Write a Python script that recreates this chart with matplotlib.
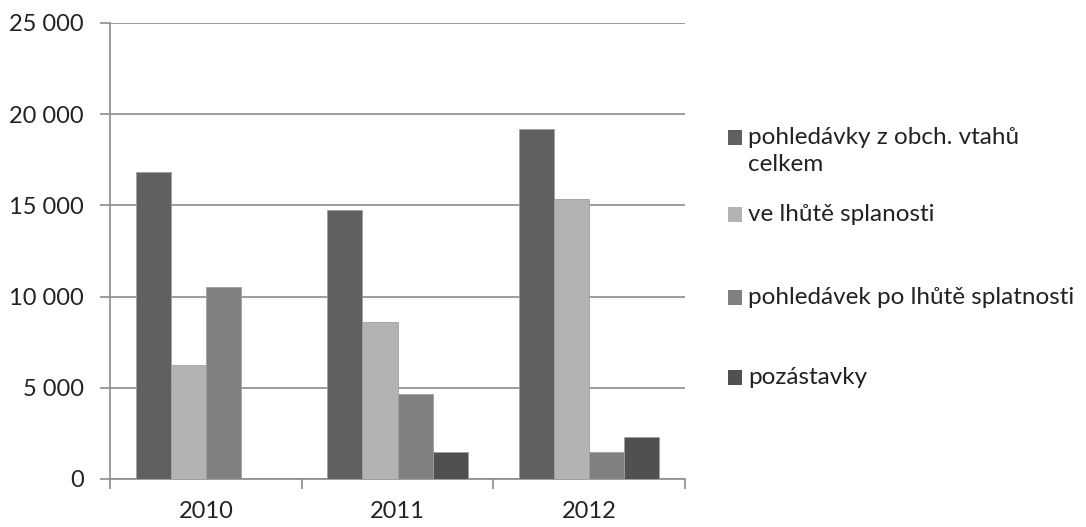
import matplotlib
matplotlib.use('Agg')
import matplotlib.pyplot as plt
from matplotlib.patches import Rectangle
from matplotlib.ticker import FuncFormatter, MultipleLocator
import numpy as np

years = ['2010', '2011', '2012']
series_names = ['pohledávky z obch. vtahů\ncelkem',
                've lhůtě splanosti',
                'pohledávek po lhůtě splatnosti',
                'pozástavky']
celkem = [16810, 14750, 19170]
ve_lhute = [6250, 8620, 15330]
po_lhute = [10540, 4640, 1500]
pozastavky = [0, 1480, 2320]
colors = ['#606060', '#b3b3b3', '#808080', '#505050']

plt.rcParams['font.family'] = ['Lato', 'DejaVu Sans']

fig = plt.figure(figsize=(10.86, 5.27), dpi=100)
ax = fig.add_axes([0.1013, 0.0911, 0.5295, 0.8653])

x = np.arange(len(years))
bw = 0.183
values = [celkem, ve_lhute, po_lhute, pozastavky]
for i, (vals, col) in enumerate(zip(values, colors)):
    ax.bar(x + (i - 1.5) * bw, vals, bw, color=col,
           edgecolor='#a0a0a0', linewidth=0.6, zorder=3)

ax.set_xlim(-0.5, 2.5)
ax.set_ylim(0, 25000)
ax.yaxis.set_major_locator(MultipleLocator(5000))
ax.yaxis.set_major_formatter(FuncFormatter(lambda v, p: f'{int(v):,}'.replace(',', ' ')))
ax.grid(axis='y', color='#8c8c8c', linewidth=1.2, zorder=0)

ax.set_xticks(x)
ax.set_xticklabels(years)
ax.set_xticks([-0.5, 0.5, 1.5, 2.5], minor=True)
ax.tick_params(axis='x', which='major', length=0, pad=16)
ax.tick_params(axis='x', which='minor', length=7, color='#8c8c8c', width=1.2)
ax.tick_params(axis='y', length=7, color='#8c8c8c', width=1.2, pad=12)
ax.tick_params(labelsize=17, labelcolor='#222222')

for s in ['top', 'right']:
    ax.spines[s].set_visible(False)
for s in ['left', 'bottom']:
    ax.spines[s].set_color('#8c8c8c')
    ax.spines[s].set_linewidth(1.2)

# legend drawn by hand, Excel style
W, H = 1086, 527
legend_y = [137, 214, 297, 377]
for name, col, yc in zip(series_names, colors, legend_y):
    fig.patches.append(Rectangle((728 / W, 1 - (yc + 7.5) / H), 14 / W, 15 / H,
                                 transform=fig.transFigure, facecolor=col,
                                 edgecolor='none'))
    fig.text(748 / W, 1 - (yc - 10) / H, name, fontsize=17.5, color='#222222',
             va='top', ha='left', linespacing=1.35)

fig.savefig('out.png', dpi=100)
